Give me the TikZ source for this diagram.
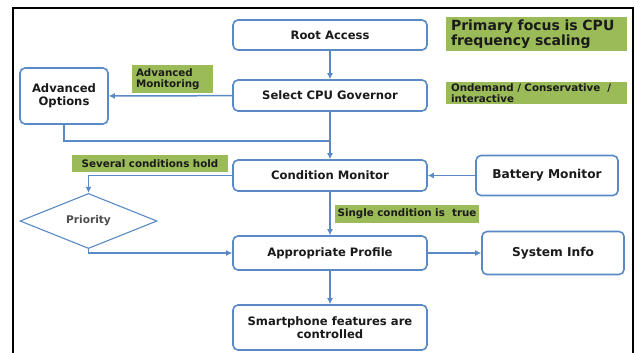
\documentclass[tikz,border=0pt]{standalone}
\usepackage{fontspec}
\setmainfont{DejaVu Sans}
\usepackage{xcolor}
\usetikzlibrary{positioning,arrows.meta,shapes.geometric}

\definecolor{edgeblue}{HTML}{5A8AC6}
\definecolor{tagfill}{HTML}{9BBB59}
\definecolor{inkdark}{HTML}{1A1A1A}

\begin{document}
\begin{tikzpicture}[
    x=1pt,y=-1pt,
    box/.style={draw=edgeblue,line width=1.6pt,rounded corners=5pt,fill=white,
      align=center,inner sep=0pt,text=inkdark,
      font=\fontsize{11.6}{13.5}\selectfont\bfseries},
    tag/.style={fill=tagfill,align=left,inner sep=0pt,text=inkdark,
      font=\fontsize{10.3}{11}\selectfont\bfseries},
    arr/.style={draw=edgeblue,line width=1.5pt,-{Latex[length=6pt,width=6pt]}},
    wire/.style={draw=edgeblue,line width=1.5pt}
  ]
    \useasboundingbox (0,0) rectangle (640,353);
    % frame
    \draw[line width=2pt] (13,353) -- (13,8) -- (633,8) -- (633,353);

    % main column
    \node[box,minimum width=194pt,minimum height=30pt] (root) at (330,35) {Root Access};
    \node[box,minimum width=194pt,minimum height=31pt] (gov) at (330,95.5) {Select CPU Governor};
    \node[box,minimum width=194pt,minimum height=31pt] (cond) at (330,175.5) {Condition Monitor};
    \node[box,minimum width=194pt,minimum height=34pt] (prof) at (330,253) {Appropriate Profile};
    \node[box,minimum width=194pt,minimum height=45pt] (smart) at (330,327.5) {Smartphone features are\\controlled};

    % side boxes
    \node[box,minimum width=88pt,minimum height=56pt] (advopt) at (64,96) {Advanced\\Options};
    \node[box,minimum width=142pt,minimum height=40pt,font=\fontsize{12.2}{14}\selectfont\bfseries] (batt) at (547,175.5) {Battery Monitor};
    \node[box,minimum width=142pt,minimum height=43pt,font=\fontsize{12.2}{14}\selectfont\bfseries] (sysinfo) at (553,253) {System Info};
    \node[draw=edgeblue,line width=1.1pt,diamond,minimum width=137pt,minimum height=53pt,
      inner sep=0pt,text=gray!60!black,font=\fontsize{10.6}{12}\selectfont\bfseries] (prio) at (88.5,221) {Priority};

    % green notes
    \node[tag,minimum width=181pt,minimum height=34pt,text width=171pt,
      font=\fontsize{14}{15}\selectfont\bfseries] (focus) at (536.5,34) {Primary focus is CPU\\frequency scaling};
    \node[tag,minimum width=181pt,minimum height=22pt,text width=171pt,
      font=\fontsize{10.3}{10.8}\selectfont\bfseries] (govlist) at (536.5,93) {Ondemand / Conservative \ /\\interactive};
    \node[tag,minimum width=81pt,minimum height=28pt,text width=73pt] (advmon) at (172.5,79) {Advanced\\Monitoring};
    \node[tag,minimum width=156pt,minimum height=17pt,align=center] (several) at (150,163.5) {Several conditions hold};
    \node[tag,minimum width=144pt,minimum height=18pt,align=center] (single) at (407,214) {Single condition is \ true};

    % connectors
    \coordinate (merge) at (330,141);
    \draw[arr] (root) -- (gov);
    \draw[arr] (gov) -- (advopt);
    \draw[wire] (advopt.south) |- (merge);
    \draw[arr] (gov) -- (cond);
    \draw[arr] (batt) -- (cond);
    \draw[arr] (cond.west) -| (prio.north);
    \draw[arr] (prio.south) |- (prof.west);
    \draw[arr] (cond) -- (prof);
    \draw[arr] (prof) -- (sysinfo);
    \draw[arr] (prof) -- (smart);
  \end{tikzpicture}
\end{document}
